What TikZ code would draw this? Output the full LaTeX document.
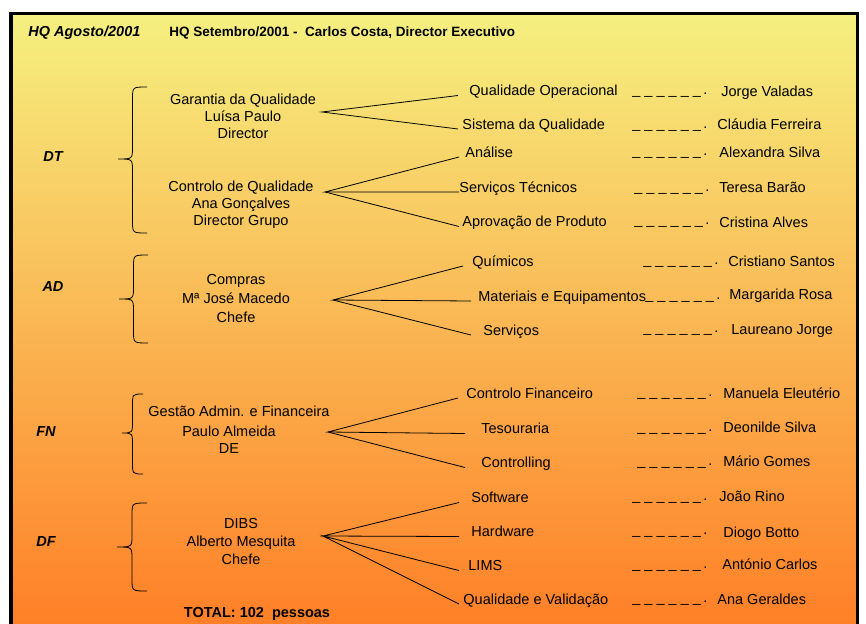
\documentclass[tikz,border=0pt]{standalone}
\usepackage{fontspec}
\setmainfont{Liberation Sans}
\definecolor{amarelo}{RGB}{245,240,128}
\definecolor{laranja}{RGB}{255,126,38}
% chaveta: tip x, tip y, top y, bottom y, right x
\newcommand{\chave}[5]{%
  \draw[line width=0.8pt] ({#5},{#3}) .. controls ({(#1+#5)/2},{#3}) .. ({(#1+#5)/2},{#3+12})
    -- ({(#1+#5)/2},{#2-12}) .. controls ({(#1+#5)/2},{#2}) .. ({#1},{#2})
    .. controls ({(#1+#5)/2},{#2}) .. ({(#1+#5)/2},{#2+12})
    -- ({(#1+#5)/2},{#4-12}) .. controls ({(#1+#5)/2},{#4}) .. ({#5},{#4});}
\newcommand{\tracos}{\_ \_ \_ \_ \_ \_\,.}

\begin{document}
\begin{tikzpicture}[x=1pt,y=-1pt,line width=0.8pt]
  \tikzstyle{txt}=[font=\fontsize{14.5}{17}\selectfont]
  \tikzstyle{sigla}=[font=\fontsize{14.5}{17}\selectfont\bfseries\itshape]
  \tikzstyle{negrito}=[font=\fontsize{14.5}{17}\selectfont\bfseries]
  \tikzstyle{chefia}=[txt,align=center,inner sep=0pt]
  \tikzstyle{area}=[txt,anchor=base west,inner ysep=0pt]
  \tikzstyle{pessoa}=[txt,anchor=base west,inner sep=0pt]

  \path[use as bounding box,fill=white] (0,0) rectangle (866,623);
  \clip (0,0) rectangle (866,623);
  \draw[line width=3.5pt,top color=amarelo,bottom color=laranja] (11,13.5) rectangle (857.5,632);

  \node[sigla,anchor=base west,inner sep=0pt] (hq) at (28,37) {HQ Agosto/2001};
  \node[anchor=base west,inner sep=0pt,font=\fontsize{13.5}{16}\selectfont\bfseries] (tit) at (169,37)
    {HQ Setembro/2001 -\ \ Carlos Costa, Director Executivo};

  % DT
  \node[sigla] (dt) at (53,157) {DT};
  \chave{118}{159}{87}{233}{147}
  \node[chefia] (gq) at (243,116) {Garantia da Qualidade\\Luísa Paulo\\Director};
  \node[chefia] (cq) at (241,205) {Controlo de Qualidade\\Ana Gonçalves\\Director Grupo};
  \coordinate (gq-r) at (322,112);
  \coordinate (cq-r) at (325,192);
  \node[area,inner xsep=11pt] (qo) at (458,95.5) {Qualidade Operacional};
  \node[area,inner xsep=4pt] (sq) at (458,129) {Sistema da Qualidade};
  \node[area,inner xsep=6pt] (an) at (459,157) {Análise};
  \node[area,inner xsep=0pt] (st) at (459,192) {Serviços Técnicos};
  \node[area,inner xsep=3pt] (ap) at (459,226.5) {Aprovação de Produto};
  \draw (qo.base west) -- (gq-r) -- (sq.base west);
  \draw (an.base west) -- (cq-r) -- (st.base west);
  \draw (cq-r) -- (ap.base west);
  \node[pessoa] (t1) at (632,94.5) {\tracos};
  \node[pessoa] (t2) at (632,128.5) {\tracos};
  \node[pessoa] (t3) at (632,155.5) {\tracos};
  \node[pessoa] (t4) at (634,191.5) {\tracos};
  \node[pessoa] (t5) at (634,224.5) {\tracos};
  \node[pessoa] (jv) at (721,97) {Jorge Valadas};
  \node[pessoa] (clf) at (717,129) {Cláudia Ferreira};
  \node[pessoa] (as) at (719,157) {Alexandra Silva};
  \node[pessoa] (tb) at (719,192) {Teresa Barão};
  \node[pessoa] (ca) at (719,227) {Cristina Alves};

  % AD
  \node[sigla] (ad) at (53,287) {AD};
  \chave{119}{299}{255}{343}{148}
  \node[chefia] (comp) at (236,299) {Compras\\[2pt]Mª José Macedo\\[2pt]Chefe};
  \coordinate (comp-r) at (333,300);
  \node[area,inner xsep=9pt] (qu) at (463,266) {Químicos};
  \node[area,inner xsep=7pt] (me) at (471,301) {Materiais e Equipamentos};
  \node[area,inner xsep=12pt] (se) at (471,335) {Serviços};
  \draw (qu.base west) -- (comp-r) -- (me.base west);
  \draw (comp-r) -- (se.base west);
  \node[pessoa] (t6) at (643,264.5) {\tracos};
  \node[pessoa] (t7) at (645,299.5) {\tracos};
  \node[pessoa] (t8) at (643,332.5) {\tracos};
  \node[pessoa] (cs) at (728,266) {Cristiano Santos};
  \node[pessoa] (mr) at (729,299) {Margarida Rosa};
  \node[pessoa] (lj) at (731,334) {Laureano Jorge};

  % FN
  \node[sigla] (fn) at (46,432) {FN};
  \chave{122}{433}{394}{474}{143}
  \node[chefia] (gaf) at (239,411) {Gestão Admin. e Financeira};
  \node[chefia] (gafb) at (229,440) {Paulo Almeida\\DE};
  \coordinate (gaf-r) at (328,432);
  \node[area,inner xsep=8pt] (cf) at (458,398) {Controlo Financeiro};
  \node[area,inner xsep=16pt] (te) at (465,433.5) {Tesouraria};
  \node[area,inner xsep=16pt] (co) at (465,467.5) {Controlling};
  \draw (cf.base west) -- (gaf-r) -- (te.base west);
  \draw (gaf-r) -- (co.base west);
  \node[pessoa] (t9) at (637,396.5) {\tracos};
  \node[pessoa] (t10) at (637,431.5) {\tracos};
  \node[pessoa] (t11) at (637,465.5) {\tracos};
  \node[pessoa] (me2) at (723,398) {Manuela Eleutério};
  \node[pessoa] (ds) at (723,432) {Deonilde Silva};
  \node[pessoa] (mg) at (723,466) {Mário Gomes};

  % DF
  \node[sigla] (df) at (46,542) {DF};
  \chave{117}{547}{503}{591}{147}
  \node[chefia] (dibs) at (241,542) {DIBS\\[1pt]Alberto Mesquita\\[1pt]Chefe};
  \coordinate (dibs-r) at (323,536);
  \node[area,inner xsep=12pt] (sw) at (459,502.5) {Software};
  \node[area,inner xsep=12pt] (hw) at (459,536.5) {Hardware};
  \node[area,inner xsep=9pt] (li) at (459,570.5) {LIMS};
  \node[area,inner xsep=4pt] (qv) at (459,604) {Qualidade e Validação};
  \draw (sw.base west) -- (dibs-r) -- (hw.base west);
  \draw (li.base west) -- (dibs-r) -- (qv.base west);
  \node[pessoa] (t12) at (632,500.5) {\tracos};
  \node[pessoa] (t13) at (632,534.5) {\tracos};
  \node[pessoa] (t14) at (632,568.5) {\tracos};
  \node[pessoa] (t15) at (632,602.5) {\tracos};
  \node[pessoa] (jr) at (719,501) {João Rino};
  \node[pessoa] (db) at (723,537) {Diogo Botto};
  \node[pessoa] (ac) at (722,569) {António Carlos};
  \node[pessoa] (ag) at (717,604) {Ana Geraldes};

  \node[negrito,anchor=base,inner sep=0pt] (total) at (257,617) {TOTAL: 102\ \ pessoas};
\end{tikzpicture}
\end{document}
